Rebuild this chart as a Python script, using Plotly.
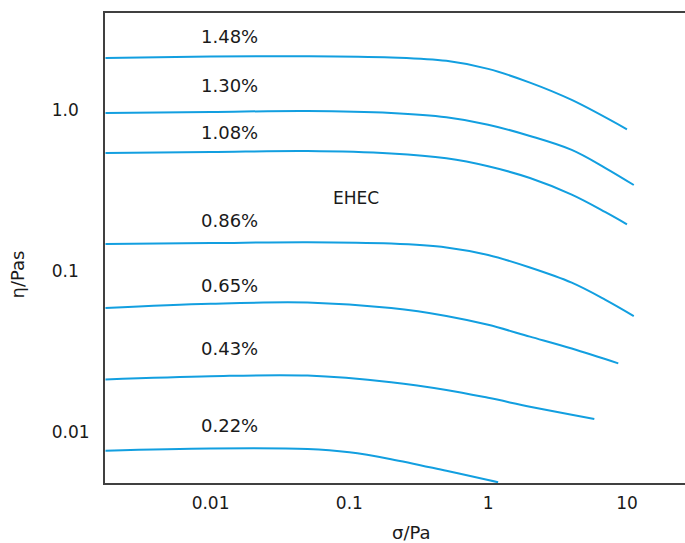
import numpy as np
import plotly.graph_objects as go

# Shear-stress sweeps (sigma / Pa) and viscosity (eta / Pa s) for EHEC solutions
concentrations = ["1.48%", "1.30%", "1.08%", "0.86%", "0.65%", "0.43%", "0.22%"]

sigma_148 = [0.00175, 0.01, 0.05, 0.2, 0.5, 1, 2, 4, 10]
eta_148 = [2.10, 2.15, 2.16, 2.12, 2.02, 1.80, 1.48, 1.155, 0.759]

sigma_130 = [0.00175, 0.01, 0.05, 0.2, 0.5, 1, 2, 4, 7, 11.2]
eta_130 = [0.958, 0.972, 0.986, 0.958, 0.901, 0.811, 0.690, 0.565, 0.436, 0.342]

sigma_108 = [0.00175, 0.01, 0.05, 0.2, 0.5, 1, 2, 4, 7, 10]
eta_108 = [0.541, 0.548, 0.556, 0.537, 0.501, 0.447, 0.378, 0.298, 0.232, 0.195]

sigma_086 = [0.00175, 0.01, 0.05, 0.2, 0.5, 1, 2, 4, 7, 11.2]
eta_086 = [0.147, 0.149, 0.151, 0.148, 0.140, 0.1257, 0.1051, 0.0846, 0.0662, 0.0525]

sigma_065 = [0.00175, 0.01, 0.05, 0.2, 0.5, 1, 2, 4, 8.66]
eta_065 = [0.0589, 0.0626, 0.0637, 0.0589, 0.0526, 0.0463, 0.0391, 0.0330, 0.0267]

sigma_043 = [0.00175, 0.01, 0.05, 0.2, 0.5, 1, 2, 4, 5.82]
eta_043 = [0.0212, 0.0222, 0.0224, 0.0204, 0.01826, 0.0163, 0.01436, 0.01279, 0.01205]

sigma_022 = [0.00175, 0.01, 0.05, 0.1, 0.2, 0.5, 1, 1.18]
eta_022 = [0.00766, 0.00790, 0.00784, 0.00748, 0.00678, 0.00574, 0.00504, 0.00487]

series_sigma = [sigma_148, sigma_130, sigma_108, sigma_086, sigma_065, sigma_043, sigma_022]
series_eta = [eta_148, eta_130, eta_108, eta_086, eta_065, eta_043, eta_022]

x_tick_vals = [0.01, 0.1, 1, 10]
x_tick_text = ["0.01", "0.1", "1", "10"]
y_tick_vals = [1.0, 0.1, 0.01]
y_tick_text = ["1.0", "0.1", "0.01"]

# where the concentration labels sit (above each curve)
label_sigma = 0.0136
label_eta = [2.853, 1.41, 0.723, 0.2053, 0.0807, 0.0328, 0.01105]
title_sigma, title_eta = 0.1117, 0.283

LINE = "#129fe0"
TEXT = "#1a1a1a"
FONT = "DejaVu Sans"

fig = go.Figure()
for name, xs, ys in zip(concentrations, series_sigma, series_eta):
    fig.add_trace(go.Scatter(
        x=xs, y=ys, mode="lines", name=name,
        line=dict(color=LINE, width=2, shape="spline", smoothing=1.0),
        hoverinfo="skip", showlegend=False,
    ))

annotations = []
for name, ly in zip(concentrations, label_eta):
    annotations.append(dict(
        x=np.log10(label_sigma), y=np.log10(ly), xref="x", yref="y",
        text=name, showarrow=False, font=dict(family=FONT, size=18, color=TEXT),
    ))
annotations.append(dict(
    x=np.log10(title_sigma), y=np.log10(title_eta), xref="x", yref="y",
    text="EHEC", showarrow=False, font=dict(family=FONT, size=17, color=TEXT),
))
annotations.append(dict(
    x=0.529, y=-0.106, xref="paper", yref="paper", text="σ/Pa",
    showarrow=False, font=dict(family=FONT, size=18, color=TEXT),
    xanchor="center", yanchor="middle",
))
annotations.append(dict(
    x=-0.15, y=0.4436, xref="paper", yref="paper", text="η/Pas", textangle=-90,
    showarrow=False, font=dict(family=FONT, size=18, color=TEXT),
    xanchor="center", yanchor="middle",
))

# pad the shorter y tick labels with figure spaces so they line up on the left
width = max(len(t) for t in y_tick_text)
y_tick_padded = [t + "\u2007" * (width - len(t)) for t in y_tick_text]

fig.update_layout(
    width=685, height=543,
    margin=dict(l=105, r=0, t=13, b=60),
    paper_bgcolor="white", plot_bgcolor="white",
    annotations=annotations,
    font=dict(family=FONT, size=17, color=TEXT),
)
fig.update_xaxes(
    type="log", range=[-2.7604, 1.4182],
    tickvals=x_tick_vals, ticktext=x_tick_text,
    showgrid=False, zeroline=False, ticks="",
    showline=True, linecolor="#404040", linewidth=2, mirror=True,
    tickfont=dict(family=FONT, size=17, color=TEXT),
    ticklabelstandoff=4,
)
fig.update_yaxes(
    type="log", range=[-2.3168, 0.6025],
    tickvals=y_tick_vals, ticktext=y_tick_padded,
    showgrid=False, zeroline=False, ticks="",
    showline=True, linecolor="#404040", linewidth=2, mirror=False,
    tickfont=dict(family=FONT, size=17, color=TEXT),
    ticklabelstandoff=10,
)

fig.write_html("out.html")
